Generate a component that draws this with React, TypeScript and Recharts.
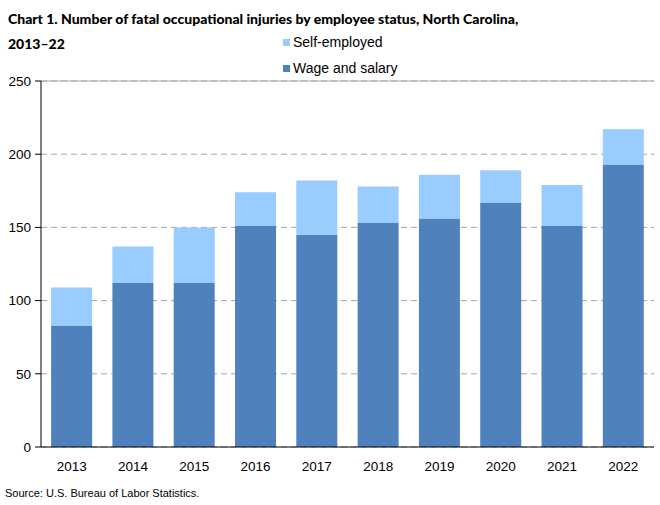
import React from "react";
import {
  Bar,
  BarChart,
  CartesianGrid,
  ReferenceLine,
  XAxis,
  YAxis,
} from "recharts";

const years = ["2013", "2014", "2015", "2016", "2017", "2018", "2019", "2020", "2021", "2022"];
const wageAndSalary = [83, 112, 112, 151, 145, 153, 156, 167, 151, 193];
const selfEmployed = [26, 25, 38, 23, 37, 25, 30, 22, 28, 24];
const yTicks = [0, 50, 100, 150, 200, 250];

const series = [
  { key: "self", name: "Self-employed", color: "#99ccff" },
  { key: "wage", name: "Wage and salary", color: "#4f81bd" },
];

const chartData = years.map((year, i) => ({
  year,
  wage: wageAndSalary[i],
  self: selfEmployed[i],
}));

const sans = "'Liberation Sans', Arial, sans-serif";

export default function App() {
  return (
    <div style={{ position: "absolute", top: 0, left: 0, width: 660, height: 505, background: "#fff" }}>
      <div
        style={{
          position: "absolute",
          left: 8,
          top: 6,
          fontFamily: "Lato, sans-serif",
          fontWeight: 900,
          fontSize: 14,
          lineHeight: "25px",
          color: "#000",
          zIndex: 2,
        }}
      >
        Chart 1. Number of fatal occupational injuries by employee status, North Carolina,
        <br />
        2013–22
      </div>
      <div
        style={{
          position: "absolute",
          left: 283,
          top: 29,
          fontFamily: sans,
          fontSize: 14,
          color: "#000",
          zIndex: 2,
        }}
      >
        {series.map((s) => (
          <div key={s.key} style={{ display: "flex", alignItems: "center", height: 26 }}>
            <span
              style={{
                display: "inline-block",
                width: 7,
                height: 7,
                background: s.color,
                marginRight: 3,
              }}
            />
            {s.name}
          </div>
        ))}
      </div>
      <BarChart
        width={660}
        height={505}
        data={chartData}
        margin={{ top: 81, right: 6, left: 0, bottom: 28 }}
        barCategoryGap="16.5%"
      >
        <CartesianGrid
          horizontal
          vertical={false}
          stroke="#a6a6a6"
          strokeDasharray="6 4"
        />
        <ReferenceLine y={250} stroke="#a6a6a6" />
        <XAxis
          dataKey="year"
          axisLine={{ stroke: "#000" }}
          tickLine={false}
          tick={{ fontFamily: sans, fontSize: 13.5, fill: "#000" }}
          height={30}
          dy={6}
        />
        <YAxis
          domain={[0, 250]}
          ticks={yTicks}
          width={41}
          axisLine={{ stroke: "#000" }}
          tickLine={{ stroke: "#000" }}
          tickSize={6}
          tick={{ fontFamily: sans, fontSize: 13.5, fill: "#000", dx: -2 }}
        />
        <Bar dataKey="wage" name="Wage and salary" stackId="a" fill="#4f81bd" isAnimationActive={false} />
        <Bar dataKey="self" name="Self-employed" stackId="a" fill="#99ccff" isAnimationActive={false} />
      </BarChart>
      <div
        style={{
          position: "absolute",
          left: 5,
          top: 487,
          fontFamily: sans,
          fontSize: 11,
          color: "#000",
        }}
      >
        Source: U.S. Bureau of Labor Statistics.
      </div>
    </div>
  );
}
